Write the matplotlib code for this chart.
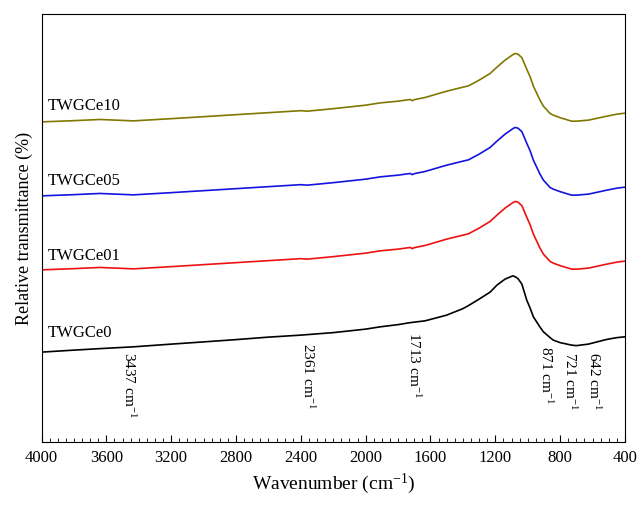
import matplotlib
matplotlib.use('Agg')
import matplotlib.pyplot as plt
from matplotlib.ticker import MultipleLocator

plt.rcParams['font.family'] = ['Liberation Serif', 'DejaVu Serif']
plt.rcParams['mathtext.fontset'] = 'custom'
plt.rcParams['mathtext.rm'] = 'Liberation Serif'
plt.rcParams['mathtext.default'] = 'regular'

# wavenumber grid (cm-1)
wn = [4000, 3800, 3640, 3433, 3200, 3020, 2800, 2600, 2400, 2361, 2200, 2000,
      1910, 1800, 1725, 1713, 1700, 1633, 1500, 1400, 1366, 1300, 1232, 1190,
      1140, 1092, 1078, 1060, 1036, 1006, 985, 965, 924, 903, 862, 842, 800,
      729, 700, 626, 512, 450, 400]

# relative transmittance (stacked, arbitrary units)
twgce0 = [90, 92, 93.5, 95.3, 98, 100, 102.5, 105, 107, 107.5, 109.5, 113,
          115.3, 117.5, 119.5, 119.7, 120, 121.3, 127, 133.5, 136.5, 143, 150, 157,
          163, 166.3, 165.5, 163.5, 158, 142, 134, 125.3, 115, 110.3, 104.5, 102, 99.5,
          97, 96.5, 98, 102.7, 104.5, 105.3]
twgce01 = [172.3, 173.5, 174.7, 173.3, 175.5, 177.3, 179.5, 181.5, 183.5, 183, 185.5, 189,
           191.3, 193, 194.7, 193.5, 194.5, 196.7, 203, 207, 208.3, 214, 220.7, 227,
           234, 239.5, 240.7, 240, 236.5, 225, 217.3, 208, 194, 188, 180.7, 179, 176.5,
           173, 173, 174, 178, 180, 181]
twgce05 = [246.3, 247.5, 248.7, 247.3, 249.5, 251.3, 253.5, 255.5, 257.5, 257, 259.5, 263,
           265.3, 267, 268.7, 267.5, 268.5, 270.7, 277, 281, 282.3, 288, 294.7, 301,
           308, 313.5, 314.7, 314, 310.5, 299, 291.3, 282, 268, 262, 254.7, 253, 250.5,
           247, 247, 248, 252, 254, 255]
twgce10 = [320.3, 321.5, 322.7, 321.3, 323.5, 325.3, 327.5, 329.5, 331.5, 331, 333.5, 337,
           339.3, 341, 342.7, 341.5, 342.5, 344.7, 351, 355, 356.3, 362, 368.7, 375,
           382, 387.5, 388.7, 388, 384.5, 373, 365.3, 356, 342, 336, 328.7, 327, 324.5,
           321, 321, 322, 326, 328, 329]

series = [twgce0, twgce01, twgce05, twgce10]
names = ['TWGCe0', 'TWGCe01', 'TWGCe05', 'TWGCe10']
colors = ['black', '#ee1111', '#1414e0', '#807800']
name_y = [109, 186, 261.5, 336]

peaks = ['3437', '2361', '1713', '871', '721', '642']
peak_x = [3460, 2357, 1704, 890, 739, 594]
peak_y = [90, 99, 110, 96, 90, 90]

fig = plt.figure(figsize=(6.39, 5.07), dpi=100)
ax = fig.add_axes([0.065, 0.128, 0.913, 0.844])

for s, c in zip(series, colors):
    ax.plot(wn, s, color=c, lw=1.2)

for n, y in zip(names, name_y):
    ax.text(3960, y, n, fontsize=12, ha='left', va='center')

for p, x, y in zip(peaks, peak_x, peak_y):
    ax.text(x, y, p + ' cm$^{-1}$', fontsize=11, rotation=270,
            ha='center', va='top')

ax.set_xlim(4000, 400)
ax.set_ylim(0, 428)
ax.xaxis.set_major_locator(MultipleLocator(400))
ax.xaxis.set_minor_locator(MultipleLocator(50))
ax.tick_params(axis='x', which='major', direction='in', length=5, labelsize=12, pad=6)
ax.tick_params(axis='x', which='minor', direction='in', length=3)
ax.tick_params(axis='y', left=False, labelleft=False)
ax.set_xlabel('Wavenumber (cm$^{-1}$)', fontsize=14, labelpad=4)
ax.set_ylabel('Relative transmittance (%)', fontsize=13, labelpad=6)

fig.savefig('out.png', dpi=100)
plt.close()
